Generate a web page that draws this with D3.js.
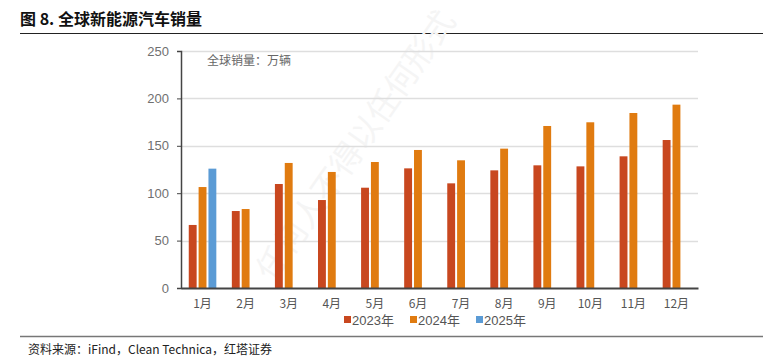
<!DOCTYPE html>
<html>
<head>
<meta charset="utf-8">
<script src="https://cdn.jsdelivr.net/npm/d3@7"></script>
<style>
  body { margin: 0; background: #fff; }
  text { font-family: "Liberation Sans", "Noto Sans CJK SC", sans-serif; }
</style>
</head>
<body>
<script>
// Data
const months = ["1月", "2月", "3月", "4月", "5月", "6月", "7月", "8月", "9月", "10月", "11月", "12月"];
const seriesNames = ["2023年", "2024年", "2025年"];
const sales2023 = [66.5, 81.2, 109.7, 92.8, 105.8, 126.2, 110.4, 124.1, 129.4, 128.3, 138.9, 156.1];
const sales2024 = [106.5, 83.3, 131.9, 122.4, 132.9, 145.6, 134.7, 147.0, 170.9, 174.8, 184.6, 193.4];
const sales2025 = [125.9];
const yTicks = [0, 50, 100, 150, 200, 250];
const colors = ["#C8471F", "#E07B10", "#5B9BD5"];

const canvWidth = 763, canvHeight = 360;
const svg = d3.select("body").append("svg")
    .attr("width", canvWidth)
    .attr("height", canvHeight);

// Title and rules
svg.append("text")
    .attr("x", 20).attr("y", 25)
    .attr("font-size", "16px")
    .attr("font-weight", "bold")
    .attr("fill", "#111")
    .style("font-family", "'Noto Sans CJK SC', sans-serif")
    .text("图 8. 全球新能源汽车销量");
svg.append("line")
    .attr("x1", 20).attr("x2", 763).attr("y1", 33.5).attr("y2", 33.5)
    .attr("stroke", "#222").attr("stroke-width", 1);
svg.append("line")
    .attr("x1", 20).attr("x2", 763).attr("y1", 336.5).attr("y2", 336.5)
    .attr("stroke", "#777").attr("stroke-width", 1.5);
svg.append("text")
    .attr("x", 28).attr("y", 354)
    .attr("font-size", "12px")
    .attr("fill", "#222")
    .style("font-family", "'Noto Sans CJK SC', sans-serif")
    .text("资料来源：iFind，Clean Technica，红塔证券");

// Plot area
const margin = {top: 51, left: 181, right: 65, bottom: 72};
const width = canvWidth - margin.left - margin.right;
const height = canvHeight - margin.top - margin.bottom;
const g = svg.append("g")
    .attr("transform", "translate(" + margin.left + "," + margin.top + ")");

const xScale = d3.scaleBand().domain(months).range([0, width]);
const yScale = d3.scaleLinear().domain([0, 250]).range([height, 0]);
const xInner = d3.scaleBand().domain(seriesNames)
    .range([xScale.bandwidth() * 0.18, xScale.bandwidth() * 0.82])
    .paddingInner(0.2);

// watermark
g.append("text")
    .attr("transform", "translate(92,232) rotate(-55)")
    .attr("font-size", "32px")
    .attr("fill", "#f5f5f5")
    .style("font-family", "'Noto Sans CJK SC', sans-serif")
    .text("任何人不得以任何形式");

// gridlines
g.append("g").selectAll("line")
    .data(yTicks.slice(1))
    .enter().append("line")
    .attr("x1", 0).attr("x2", width)
    .attr("y1", d => Math.round(yScale(d)) + 0.5)
    .attr("y2", d => Math.round(yScale(d)) + 0.5)
    .attr("stroke", "#dedede").attr("stroke-width", 1.5);

// bars
const series = [sales2023, sales2024, sales2025];
series.forEach(function(vals, si) {
    g.append("g").selectAll("rect")
        .data(vals)
        .enter().append("rect")
        .attr("x", (d, i) => xScale(months[i]) + xInner(seriesNames[si]))
        .attr("y", d => yScale(d))
        .attr("width", xInner.bandwidth())
        .attr("height", d => height - yScale(d))
        .attr("fill", colors[si]);
});

// y axis
const yAxis = d3.axisLeft(yScale).tickValues(yTicks).tickSize(4).tickPadding(8);
const yG = g.append("g").call(yAxis);
yG.select(".domain").attr("stroke", "#444").attr("stroke-width", 1.5);
yG.selectAll(".tick line").attr("stroke", "#444");
yG.selectAll("text").attr("font-size", "13px").attr("fill", "#707070");

// x axis
const xAxis = d3.axisBottom(xScale).tickSize(0).tickPadding(11);
const xG = g.append("g")
    .attr("transform", "translate(0," + height + ")")
    .call(xAxis);
xG.select(".domain").attr("stroke", "#444").attr("stroke-width", 2);
xG.selectAll("text").attr("font-size", "12px").attr("fill", "#555")
    .style("font-family", "'Noto Sans CJK SC', sans-serif");

// unit note
g.append("text")
    .attr("x", 26).attr("y", 14)
    .attr("font-size", "12px")
    .attr("fill", "#666")
    .style("font-family", "'Noto Sans CJK SC', sans-serif")
    .text("全球销量：万辆");

// legend
const legendX = [344, 410, 476];
const legend = svg.append("g").selectAll("g")
    .data(seriesNames)
    .enter().append("g")
    .attr("transform", (d, i) => "translate(" + legendX[i] + ",316)");
legend.append("rect")
    .attr("width", 7).attr("height", 7)
    .attr("fill", (d, i) => colors[i]);
legend.append("text")
    .attr("x", 8).attr("y", 9)
    .attr("font-size", "13px")
    .attr("fill", "#555")
    .text(d => d);
</script>
</body>
</html>
